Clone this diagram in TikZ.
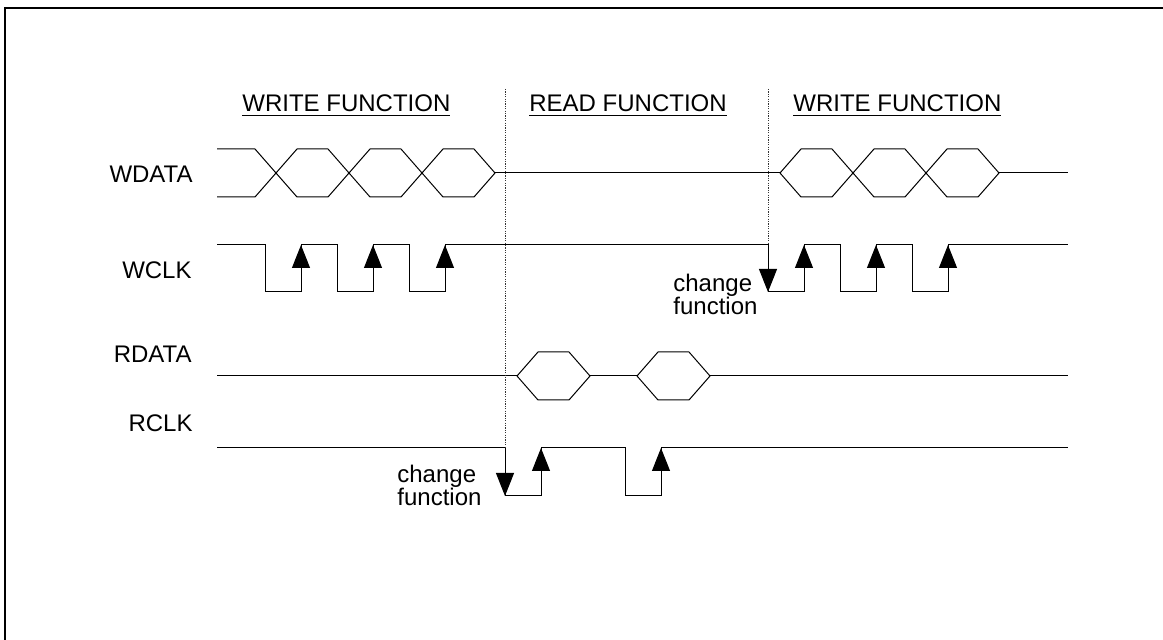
\documentclass[tikz,border=0pt]{standalone}
\usepackage{fontspec}
\setmainfont{Liberation Sans}
\usetikzlibrary{arrows.meta}

\tikzset{
  sig/.style={line width=0.5pt},
  edgearr/.style={sig, -{Triangle[width=9pt, length=11.5pt]}},
  divider/.style={line width=0.4pt, dash pattern=on 0.6pt off 0.6pt, black!80},
  lbl/.style={inner sep=0pt, font=\fontsize{12}{11.6}\selectfont},
}

\begin{document}
\begin{tikzpicture}[x=0.5pt, y=-0.5pt]
    \useasboundingbox (0, 0) rectangle (1163, 640);
    \draw[line width=1pt] (5, 640) -- (5, 8) -- (1163, 8);
    % phase headers
    \node[lbl, anchor=base west] (hdwra) at (242, 112) {\underline{WRITE FUNCTION}};
    \node[lbl, anchor=base west] (hdrd) at (529, 112) {\underline{READ FUNCTION}};
    \node[lbl, anchor=base west] (hdwrb) at (793, 112) {\underline{WRITE FUNCTION}};
    % signal names
    \node[lbl, anchor=base east] (wdata) at (193, 183) {WDATA};
    \node[lbl, anchor=base east] (wclk) at (192, 279) {WCLK};
    \node[lbl, anchor=base east] (rdata) at (192, 363) {RDATA};
    \node[lbl, anchor=base east] (rclk) at (193, 432) {RCLK};
    % WDATA
    \draw[sig] (217, 149) -- (255, 149) -- (276, 173) -- (255, 197) -- (217, 197);
    \foreach \x in {276, 349, 422, 780, 853, 926}
        \draw[sig] (\x, 173) -- ++(21, -24) -- ++(31, 0) -- ++(21, 24) -- ++(-21, 24) -- ++(-31, 0) -- cycle;
    \draw[sig] (495, 173) -- (780, 173) (999, 173) -- (1068, 173);
    % WCLK
    \draw[sig] (217, 245) -| (265, 292) -| (301, 245) -| (337, 292) -| (373, 245) -| (409, 292) -| (445, 245)
        -| (768, 292) -| (804, 245) -| (840, 292) -| (876, 245) -| (912, 292) -| (948, 245) -- (1068, 245);
    \foreach \x in {301, 373, 445, 804, 876, 948}
        \draw[edgearr] (\x, 292) -- (\x, 245);
    \draw[edgearr] (768, 245) -- (768, 292);
    % RDATA
    \draw[sig] (217, 376) -- (517, 376) (590, 376) -- (637, 376) (710, 376) -- (1068, 376);
    \foreach \x in {517, 637}
        \draw[sig] (\x, 376) -- ++(21, -24) -- ++(31, 0) -- ++(21, 24) -- ++(-21, 24) -- ++(-31, 0) -- cycle;
    % RCLK
    \draw[sig] (217, 448) -| (505, 496) -| (541, 448) -| (625, 496) -| (661, 448) -- (1068, 448);
    \foreach \x in {541, 661}
        \draw[edgearr] (\x, 496) -- (\x, 448);
    \draw[edgearr] (505, 448) -- (505, 496);
    % phase boundaries
    \draw[divider] (505, 89) -- (505, 448);
    \draw[divider] (768, 89) -- (768, 245);
    \node[lbl, align=left, anchor=north west] (chgrd) at (397, 465) {change\\function};
    \node[lbl, align=left, anchor=north west] (chgwr) at (673, 274) {change\\function};
\end{tikzpicture}
\end{document}
